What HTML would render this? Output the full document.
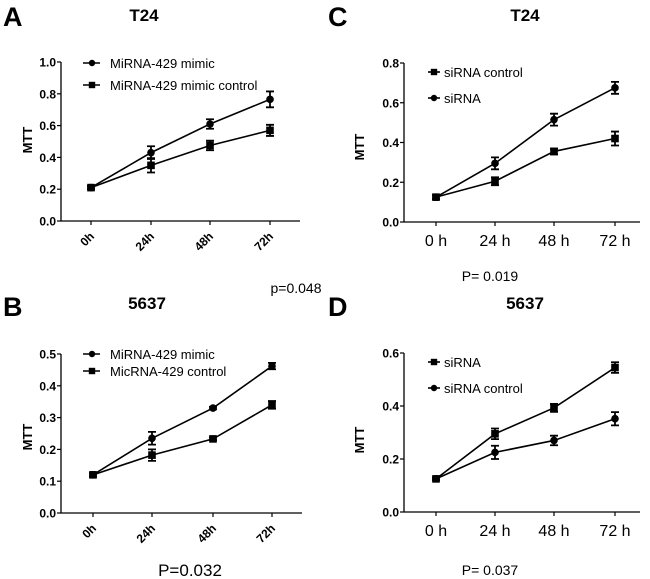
<!DOCTYPE html>
<html><head><meta charset="utf-8"><style>
body{margin:0;background:#fff}
svg{display:block;font-family:"Liberation Sans",Arial,sans-serif}
</style></head><body>
<svg id="fig" width="650" height="579" viewBox="0 0 650 579"></svg>
<script>
const catsRot=["0h","24h","48h","72h"];
const catsSp=["0 h","24 h","48 h","72 h"];
const aMimic=[0.21,0.43,0.61,0.765], aMimicErr=[0.01,0.04,0.03,0.05];
const aCtrl=[0.21,0.35,0.475,0.57], aCtrlErr=[0.01,0.045,0.03,0.035];
const bMimic=[0.12,0.235,0.33,0.462], bMimicErr=[0.005,0.02,0.004,0.01];
const bCtrl=[0.12,0.182,0.233,0.34], bCtrlErr=[0.005,0.018,0.004,0.012];
const cCtrl=[0.125,0.205,0.355,0.42], cCtrlErr=[0.01,0.02,0.015,0.035];
const cSi=[0.125,0.295,0.515,0.675], cSiErr=[0.01,0.03,0.03,0.03];
const dSi=[0.125,0.295,0.393,0.545], dSiErr=[0.005,0.02,0.015,0.02];
const dCtrl=[0.125,0.225,0.27,0.352], dCtrlErr=[0.005,0.025,0.018,0.025];
const aTicks=["0.0","0.2","0.4","0.6","0.8","1.0"];
const bTicks=["0.0","0.1","0.2","0.3","0.4","0.5"];
const cTicks=["0.0","0.2","0.4","0.6","0.8"];
const dTicks=["0.0","0.2","0.4","0.6"];

const NS="http://www.w3.org/2000/svg";
const svg=document.getElementById('fig');
function mk(tag,attrs,parent,text){const e=document.createElementNS(NS,tag);for(const k in attrs)e.setAttribute(k,attrs[k]);if(text!==undefined)e.textContent=text;(parent||svg).appendChild(e);return e;}

function panel(p){
  const g=mk('g',{});
  
  
  const ymax=parseFloat(p.ticks[p.ticks.length-1]);
  const ys=v=>p.y0-(v/ymax)*(p.y0-p.y1);
  const xs=i=>p.xc[i];
  let t=mk('text',{x:p.lx,y:p.ly,'font-size':27,'font-weight':'bold'},g,p.letter);
  
  t=mk('text',{x:p.tx,y:p.ty,'font-size':17,'font-weight':'bold','text-anchor':'middle'},g,p.title);
  
  let a=mk('path',{d:`M${p.ax},${p.y1}V${p.y0}H${p.xend}`,stroke:'#000','stroke-width':1.3,fill:'none'},g);
  
  p.ticks.forEach(tk=>{const y=ys(parseFloat(tk));
    mk('line',{x1:p.ax-4,x2:p.ax,y1:y,y2:y,stroke:'#000','stroke-width':1.2},g);
    const tl=mk('text',{x:p.ax-5,y:y+4.5,'font-size':12,'font-weight':'bold','text-anchor':'end'},g,tk);
    
  });
  p.cats.forEach((c,i)=>{const x=xs(i);
    mk('line',{x1:x,x2:x,y1:p.y0,y2:p.y0+4,stroke:'#000','stroke-width':1.2},g);
    let tl;
    if(p.rot){const rx=x+4,ry=p.y0+16;tl=mk('text',{x:rx,y:ry,'font-size':12,'font-weight':'bold','text-anchor':'end',transform:`rotate(-45 ${rx} ${ry})`},g,c);}
    else{tl=mk('text',{x:x,y:p.y0+24,'font-size':16,'text-anchor':'middle'},g,c);}
    
  });
  t=mk('text',{x:p.mx,y:p.my,'font-size':13,'font-weight':'bold','text-anchor':'middle',transform:`rotate(-90 ${p.mx} ${p.my})`},g,'MTT');
  
  p.series.forEach((s,si)=>{
    const sg=mk('g',{},g);
    
    
    mk('polyline',{points:s.v.map((v,i)=>xs(i)+','+ys(v)).join(' '),fill:'none',stroke:'#000','stroke-width':1.6},sg);
    s.v.forEach((v,i)=>{const x=xs(i),y=ys(v),hi=ys(v+s.e[i]),lo=ys(v-s.e[i]);
      mk('path',{d:`M${x},${hi}V${lo}M${x-4},${hi}H${x+4}M${x-4},${lo}H${x+4}`,stroke:'#000','stroke-width':1.8,fill:'none'},sg);
      let m;
      if(s.m==='c')m=mk('circle',{cx:x,cy:y,r:3.8,fill:'#000'},sg);
      else m=mk('rect',{x:x-3.8,y:y-3.8,width:7.6,height:7.6,fill:'#000'},sg);
      
    });
    const ly=p.legY[si];
    const lg=mk('g',{},g);
    
    mk('line',{x1:p.legX,x2:p.legX+(p.rot?17:12),y1:ly,y2:ly,stroke:'#000','stroke-width':1.6},lg);
    const mxp=p.legX+(p.rot?9:6);
    if(s.m==='c')mk('circle',{cx:mxp,cy:ly,r:3.2,fill:'#000'},lg);else mk('rect',{x:mxp-3.2,y:ly-3.2,width:6.4,height:6.4,fill:'#000'},lg);
    mk('text',{x:p.legX+(p.rot?27:16),y:ly+5,'font-size':13},lg,s.name);
  });
  t=mk('text',{x:p.px,y:p.py,'font-size':p.pfs,'text-anchor':'middle'},g,p.ptext);
  
}
panel({id:'a',letter:'A',lx:3,ly:26,title:'T24',tx:144,ty:21,ax:61,y0:221,y1:62,xend:300,xc:[91,151,210,270],cats:catsRot,rot:true,ticks:aTicks,mx:32,my:140,
 series:[{name:'MiRNA-429 mimic',m:'c',v:aMimic,e:aMimicErr},{name:'MiRNA-429 mimic control',m:'s',v:aCtrl,e:aCtrlErr}],legX:83,legY:[63,85],px:296,py:293,pfs:14,ptext:'p=0.048'});
panel({id:'b',letter:'B',lx:3,ly:316,title:'5637',tx:147,ty:309,ax:61,y0:513,y1:354,xend:302,xc:[93,152,213,272],cats:catsRot,rot:true,ticks:bTicks,mx:32,my:437,
 series:[{name:'MiRNA-429 mimic',m:'c',v:bMimic,e:bMimicErr},{name:'MicRNA-429 control',m:'s',v:bCtrl,e:bCtrlErr}],legX:83,legY:[354,371],px:190,py:576,pfs:17,ptext:'P=0.032'});
panel({id:'c',letter:'C',lx:328,ly:26,title:'T24',tx:525,ty:21,ax:404,y0:222,y1:63,xend:640,xc:[436,495,554,615],cats:catsSp,rot:false,ticks:cTicks,mx:364,my:147,
 series:[{name:'siRNA control',m:'s',v:cCtrl,e:cCtrlErr},{name:'siRNA',m:'c',v:cSi,e:cSiErr}],legX:428,legY:[72,98],px:490,py:281,pfs:14,ptext:'P= 0.019'});
panel({id:'d',letter:'D',lx:328,ly:316,title:'5637',tx:525,ty:309,ax:404,y0:512,y1:353,xend:640,xc:[436,495,554,615],cats:catsSp,rot:false,ticks:dTicks,mx:364,my:440,
 series:[{name:'siRNA',m:'s',v:dSi,e:dSiErr},{name:'siRNA control',m:'c',v:dCtrl,e:dCtrlErr}],legX:428,legY:[362,388],px:490,py:575,pfs:14,ptext:'P= 0.037'});
</script>
</body></html>
